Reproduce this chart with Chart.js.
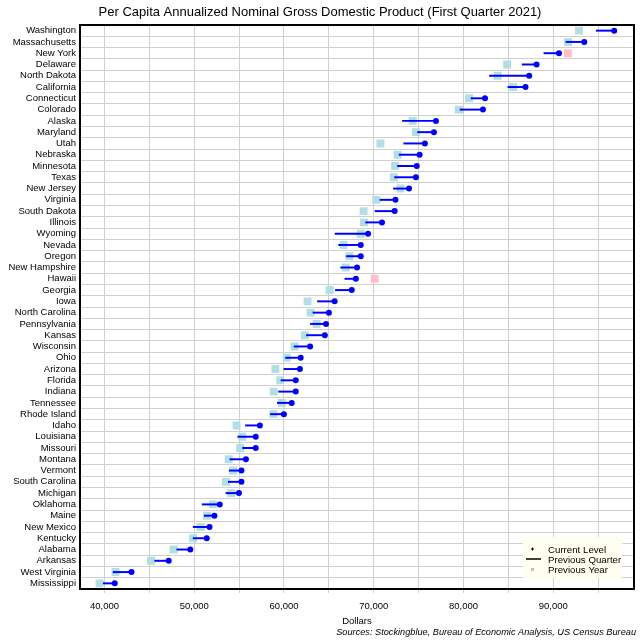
<!DOCTYPE html>
<html>
<head>
<meta charset="utf-8">
<script src="https://cdn.jsdelivr.net/npm/chart.js@4"></script>
<style>
  body { margin: 0; background: #fff; }
  #wrap { width: 640px; height: 640px; }
</style>
</head>
<body>
<div id="wrap"><canvas id="gdpChart" width="640" height="640"></canvas></div>
<script>
const states = ['Washington', 'Massachusetts', 'New York', 'Delaware', 'North Dakota', 'California', 'Connecticut', 'Colorado',
    'Alaska', 'Maryland', 'Utah', 'Nebraska', 'Minnesota', 'Texas', 'New Jersey', 'Virginia', 'South Dakota', 'Illinois',
    'Wyoming', 'Nevada', 'Oregon', 'New Hampshire', 'Hawaii', 'Georgia', 'Iowa', 'North Carolina', 'Pennsylvania', 'Kansas',
    'Wisconsin', 'Ohio', 'Arizona', 'Florida', 'Indiana', 'Tennessee', 'Rhode Island', 'Idaho', 'Louisiana', 'Missouri',
    'Montana', 'Vermont', 'South Carolina', 'Michigan', 'Oklahoma', 'Maine', 'New Mexico', 'Kentucky', 'Alabama', 'Arkansas',
    'West Virginia', 'Mississippi'];

const currentLevel = [96790, 93460, 90640, 88140, 87320, 86910, 82400, 82170,
    76930, 76710, 75700, 75110, 74790, 74700, 73930, 72420, 72330, 70920,
    69370, 68550, 68550, 68140, 68010, 67550, 65640, 65000, 64680, 64550,
    62910, 61860, 61770, 61310, 61310, 60860, 59990, 57310, 56850, 56850,
    55760, 55260, 55260, 54980, 52840, 52250, 51700, 51390, 49560, 47150,
    43010, 41140];

const previousQuarter = [94790, 91420, 88960, 86540, 82900, 84950, 80850, 79620,
    73200, 74880, 73340, 72830, 72650, 72330, 72200, 70690, 70150, 69100,
    65690, 66090, 66960, 66320, 66780, 65730, 63730, 63230, 62950, 62500,
    61130, 60170, 59990, 59670, 59400, 59260, 58490, 55710, 54850, 55390,
    53980, 53890, 53800, 53530, 50880, 51110, 49880, 49880, 48060, 45600,
    40960, 39860];

const previousYear = [92870, 91640, 91640, 84860, 83810, 85540, 80620, 79480,
    74340, 74700, 70740, 72650, 72380, 72240, 72970, 70280, 68870, 68920,
    68550, 66640, 67280, 66870, 70100, 65090, 62630, 62950, 63640, 62320,
    61180, 60310, 59040, 59580, 58850, 59760, 58810, 54710, 55350, 55120,
    53840, 54350, 53530, 54120, 52070, 51430, 50700, 49880, 47700, 45190,
    41230, 39450];

const xTickValues = [40000, 45000, 50000, 55000, 60000, 65000, 70000, 75000, 80000, 85000, 90000, 95000];

const fontFamily = "'Liberation Sans', Arial, sans-serif";
const blue = '#0000ff';
const squareBlue = '#b0dfe5';
const squarePink = '#ffc0cb';
const gridGray = '#cfcfcf';

const quarterBars = previousQuarter.map((v, i) => [v, currentLevel[i]]);
const squareColors = previousYear.map((v, i) => v > currentLevel[i] ? squarePink : squareBlue);

// title, frame round the plot area, the legend box and the sources line
const framePlugin = {
    id: 'frame',
    afterDatasetsDraw(chart) {
        const ctx = chart.ctx;
        const a = chart.chartArea;
        ctx.save();
        ctx.strokeStyle = '#000';
        ctx.lineWidth = 2;
        ctx.strokeRect(a.left, a.top, a.right - a.left, a.bottom - a.top);

        ctx.fillStyle = '#000';
        ctx.font = '13px ' + fontFamily;
        ctx.textAlign = 'center';
        ctx.textBaseline = 'middle';
        ctx.fillText('Per Capita Annualized Nominal Gross Domestic Product (First Quarter 2021)', 320, 12);

        const bx = a.right - 111, by = a.bottom - 52;
        ctx.fillStyle = '#fffff0';
        ctx.fillRect(bx, by, 99, 41);

        ctx.fillStyle = '#000';
        ctx.font = '9.7px ' + fontFamily;
        ctx.textAlign = 'left';
        ctx.fillText('Current Level', bx + 25, by + 13);
        ctx.fillText('Previous Quarter', bx + 25, by + 23);
        ctx.fillText('Previous Year', bx + 25, by + 33);

        // little plus
        ctx.lineWidth = 1;
        ctx.beginPath();
        ctx.moveTo(bx + 8, by + 12); ctx.lineTo(bx + 11, by + 12);
        ctx.moveTo(bx + 9.5, by + 10.5); ctx.lineTo(bx + 9.5, by + 13.5);
        ctx.stroke();
        // line
        ctx.lineWidth = 1.5;
        ctx.beginPath();
        ctx.moveTo(bx + 3, by + 22); ctx.lineTo(bx + 18, by + 22);
        ctx.stroke();
        // square
        ctx.fillStyle = '#c0c0c0';
        ctx.fillRect(bx + 8, by + 31, 3, 3);

        ctx.fillStyle = '#000';
        ctx.font = 'italic 9.2px ' + fontFamily;
        ctx.textAlign = 'right';
        ctx.fillText('Sources: Stockingblue, Bureau of Economic Analysis, US Census Bureau', 636, 632);
        ctx.restore();
    }
};

new Chart(document.getElementById('gdpChart'), {
    type: 'bar',
    data: {
        labels: states,
        datasets: [{
            type: 'line',
            label: 'Current Level',
            data: currentLevel,
            showLine: false,
            pointRadius: 3,
            pointBackgroundColor: blue,
            pointBorderWidth: 0,
            order: 0
        }, {
            type: 'bar',
            label: 'Previous Quarter',
            data: quarterBars,
            backgroundColor: blue,
            barThickness: 1.3,
            order: 1
        }, {
            type: 'line',
            label: 'Previous Year',
            data: previousYear,
            showLine: false,
            pointStyle: 'rect',
            pointRadius: 5.6,
            pointBackgroundColor: squareColors,
            pointBorderWidth: 0,
            order: 2
        }]
    },
    options: {
        indexAxis: 'y',
        responsive: false,
        animation: false,
        layout: {
            padding: { left: 0, right: 6, top: 25, bottom: 0 }
        },
        plugins: {
            legend: { display: false },
            tooltip: { enabled: false },
            title: { display: false }
        },
        scales: {
            x: {
                type: 'linear',
                min: 37270,
                max: 99000,
                afterBuildTicks: axis => {
                    axis.ticks = xTickValues.map(v => ({ value: v }));
                },
                afterFit: scale => { scale.height = 51; },
                ticks: {
                    color: '#000',
                    font: { family: fontFamily, size: 9.5 },
                    maxRotation: 0,
                    padding: 8,
                    callback: v => v % 10000 === 0 ? v.toLocaleString('en-US') : ''
                },
                grid: { color: gridGray, tickLength: 4, lineWidth: 1 },
                border: { display: false },
                title: {
                    display: true,
                    text: 'Dollars',
                    color: '#000',
                    font: { family: fontFamily, size: 9.5 },
                    padding: { top: 2, bottom: 13 }
                }
            },
            y: {
                type: 'category',
                grid: { color: gridGray, offset: true, tickLength: 0, lineWidth: 1 },
                border: { display: false },
                ticks: {
                    color: '#000',
                    autoSkip: false,
                    font: { family: fontFamily, size: 9.5 },
                    padding: 4
                },
                afterFit: scale => { scale.width = 80; }
            }
        }
    },
    plugins: [framePlugin]
});
</script>
</body>
</html>
